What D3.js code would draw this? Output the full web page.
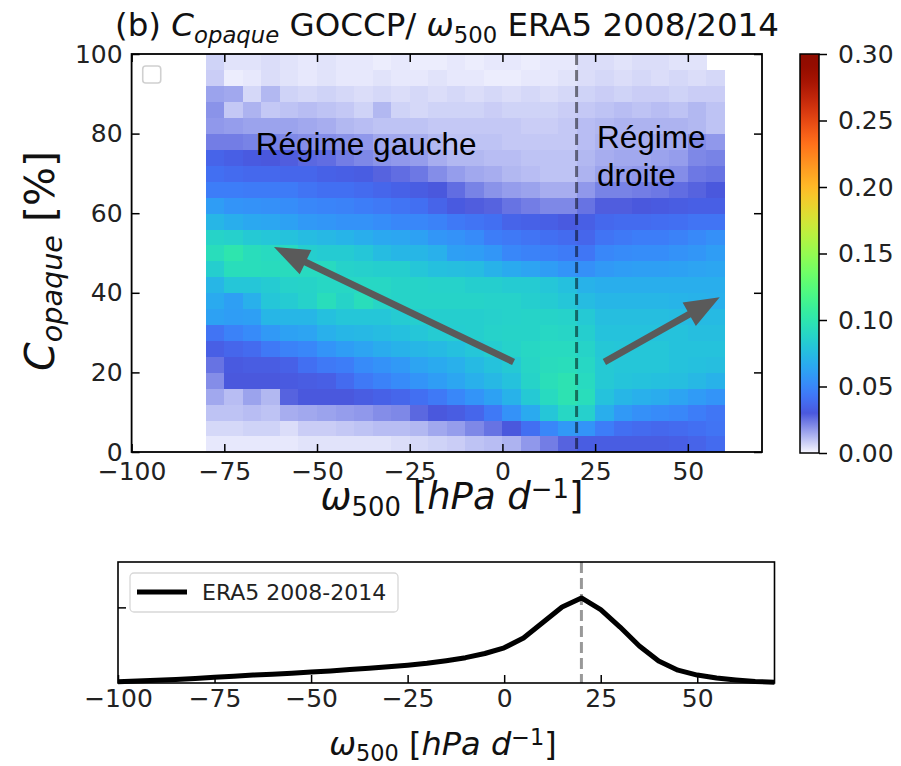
<!DOCTYPE html>
<html><head><meta charset="utf-8">
<script src="https://cdn.jsdelivr.net/npm/d3@7"></script>
<style>body{margin:0;background:#fff;} svg text{font-family:"DejaVu Sans";}</style>
</head><body><svg id="c" width="901" height="766" xmlns="http://www.w3.org/2000/svg"></svg>
<script>
// ---------------- DATA ----------------
const xBins = [-80,-75,-70,-65,-60,-55,-50,-45,-40,-35,-30,-25,-20,-15,-10,-5,0,5,10,15,20,25,30,35,40,45,50,55];
const yBins = [0,4,8,12,16,20,24,28,32,36,40,44,48,52,56,60,64,68,72,76,80,84,88,92,96];
const binW = 5, binH = 4;
// relative frequency x 1e-3, one row per yBin (bottom to top), one value per xBin
const hist = [
 [3,3,3,3,3,4,4,4,4,4,5,6,7,8,10,11,13,18,23,28,32,32,32,32,32,33,35,38],
 [6,6,7,7,5,8,8,9,10,11,11,12,15,17,21,25,30,40,50,58,56,46,40,38,37,38,40,42],
 [10,10,11,10,14,15,16,17,18,20,21,27,30,32,36,44,55,66,80,90,86,68,58,54,52,50,46,43],
 [15,11,16,12,28,30,30,30,32,34,36,40,44,50,56,62,70,82,92,98,94,78,72,69,67,63,59,56],
 [20,30,30,30,31,32,33,38,44,48,52,56,60,64,69,73,78,88,95,98,92,82,79,78,77,76,73,70],
 [25,31,32,32,34,40,44,46,52,55,58,63,66,69,74,78,82,89,93,94,90,82,80,80,80,78,77,76],
 [33,36,38,44,48,50,56,60,63,67,70,72,74,77,80,84,87,90,92,92,88,81,80,80,80,78,78,78],
 [42,48,52,58,62,63,69,72,73,75,77,80,83,84,85,87,88,88,90,89,85,78,78,78,78,78,76,76],
 [62,60,61,72,72,72,77,80,80,80,83,85,85,85,85,86,87,88,88,87,82,76,76,76,76,75,74,74],
 [66,61,69,80,83,87,94,88,94,89,88,88,88,88,88,87,87,85,83,80,75,72,72,72,72,71,70,69],
 [72,80,80,83,87,88,90,90,90,90,88,88,87,87,85,85,83,83,80,77,70,68,68,68,68,68,68,68],
 [85,94,94,93,93,92,92,87,86,85,85,80,77,76,75,70,66,63,60,56,54,58,60,61,61,62,63,64],
 [94,100,94,92,92,85,83,83,80,75,72,72,69,61,60,57,50,48,47,45,43,50,52,53,53,55,57,60],
 [88,86,82,80,78,75,73,71,68,65,64,62,57,55,52,46,44,42,40,38,36,42,44,46,46,48,51,54],
 [72,68,65,64,62,58,57,55,55,53,50,50,48,44,42,40,35,34,33,31,33,37,38,38,39,40,42,42],
 [60,56,55,54,53,50,49,48,46,44,42,40,35,31,29,28,25,23,21,21,25,29,29,30,31,32,33,33],
 [46,46,45,45,45,42,40,40,38,36,34,32,30,26,22,19,17,16,14,14,18,22,22,23,24,26,28,30],
 [40,38,37,37,36,36,34,33,32,28,26,24,20,17,15,14,12,11,10,10,13,16,17,18,19,20,24,25],
 [35,33,31,30,29,27,26,23,21,19,18,17,14,12,12,11,11,10,10,10,12,14,15,15,16,17,21,22],
 [23,23,22,22,21,20,20,19,18,15,15,14,12,10,10,10,9,9,9,9,11,13,14,14,15,15,20,18],
 [18,17,16,16,16,15,14,12,11,10,10,10,9,9,9,9,9,8,8,9,11,12,13,13,13,13,12,10],
 [19,9,13,9,10,11,10,9,7,12,7,6,7,7,7,8,7,7,7,8,9,10,11,10,11,10,12,10],
 [16,15,6,12,7,6,7,6,5,6,5,6,5,6,5,6,5,6,5,6,7,8,7,8,8,7,8,8],
 [8,2,3,5,4,3,4,3,3,4,3,3,4,3,3,2,2,3,3,4,5,6,5,6,5,6,5,6],
 [7,4,4,5,4,3,4,3,3,2,3,2,2,3,2,3,3,2,3,3,5,5,4,5,5,4,4,0]
];
const xTicks = [-100,-75,-50,-25,0,25,50];
const yTicks = [0,20,40,60,80,100];
const cbTicks = [0,0.05,0.10,0.15,0.20,0.25,0.30];
const omegaX = [-100,-95,-90,-85,-80,-75,-70,-65,-60,-55,-50,-45,-40,-35,-30,-25,-20,-15,-10,-5,0,5,10,15,20,25,30,35,40,45,50,55,60,65,70];
const omegaPdf = [0.0003,0.0005,0.0007,0.0009,0.0012,0.0015,0.0018,0.0021,0.0023,0.0026,0.0029,0.0032,0.0036,0.0039,0.0043,0.0047,0.0052,0.0059,0.0067,0.0078,0.0093,0.0119,0.0160,0.0201,0.0225,0.0194,0.0148,0.0098,0.0058,0.0034,0.0021,0.0013,0.0008,0.0004,0.0002];
const pdfTicks = [0.02];
const omegaSplit = 20;
const arrows = [{from:[3,22.6], to:[-61.6,51.5]}, {from:[27.5,22.6], to:[58.6,38.9]}];
const regimeLabels = [{lines:["Régime gauche"], at:[-66.5,74.5]}, {lines:["Régime","droite"], at:[25.5,76.5]}];

// ---------------- LAYOUT ----------------
const svg = d3.select("#c");
const M = {l:131.6, r:762, t:54, b:452};
const CB = {l:800, r:819, t:54, b:453};
const B = {l:118, r:774.5, t:562, b:683};
const FS = 25;

const x = d3.scaleLinear().domain([-100,70]).range([M.l,M.r]);
const y = d3.scaleLinear().domain([0,100]).range([M.b,M.t]);
const cb = d3.scaleLinear().domain([0,0.3]).range([CB.b,CB.t]);
const xb = d3.scaleLinear().domain([-100,70]).range([B.l,B.r]);
const yb = d3.scaleLinear().domain([0,0.032]).range([B.b,B.t]);

const low = d3.interpolateRgb("rgb(248,248,255)", d3.interpolateTurbo(0.1));
function cmap(v){ const t=Math.max(0,Math.min(1,v/0.3)); return t<0.1 ? low(t/0.1) : d3.interpolateTurbo(t); }

// ---------------- HEATMAP ----------------
const cells = [];
hist.forEach((row,i)=>row.forEach((v,j)=>{ if(v>0) cells.push({x0:xBins[j], y0:yBins[i], v:v/1000}); }));
svg.append("g").selectAll("rect").data(cells).join("rect")
  .attr("x",d=>x(d.x0)).attr("y",d=>y(d.y0+binH))
  .attr("width",d=>x(d.x0+binW)-x(d.x0)+0.4).attr("height",d=>y(d.y0)-y(d.y0+binH)+0.4)
  .attr("fill",d=>cmap(d.v)).attr("shape-rendering","crispEdges");

// empty legend box
svg.append("rect").attr("x",x(-97)).attr("y",y(97)).attr("width",18).attr("height",17)
  .attr("rx",3).attr("fill","#fff").attr("stroke","#d0d0d0").attr("stroke-width",1.6);

// dashed split line
svg.append("line").attr("x1",x(omegaSplit)).attr("x2",x(omegaSplit)).attr("y1",M.t).attr("y2",M.b)
  .attr("stroke","#000").attr("stroke-opacity",0.5).attr("stroke-width",3).attr("stroke-dasharray","11,5");

// arrows
function arrowPath(p0,p1){
  const ax=x(p0[0]), ay=y(p0[1]), bx=x(p1[0]), by=y(p1[1]);
  const dx=bx-ax, dy=by-ay, L=Math.hypot(dx,dy), ux=dx/L, uy=dy/L, nx=-uy, ny=ux;
  const w=3.4, hw=13.5, hl=35;
  const hx=bx-ux*hl, hy=by-uy*hl;
  const pts=[[ax+nx*w,ay+ny*w],[hx+nx*w,hy+ny*w],[hx+nx*hw,hy+ny*hw],[bx,by],[hx-nx*hw,hy-ny*hw],[hx-nx*w,hy-ny*w],[ax-nx*w,ay-ny*w]];
  return "M"+pts.map(p=>p.join(",")).join("L")+"Z";
}
svg.append("g").selectAll("path").data(arrows).join("path")
  .attr("d",d=>arrowPath(d.from,d.to)).attr("fill","#5a5a5a");

// regime labels
regimeLabels.forEach(r=>{
  const t=svg.append("text").attr("x",x(r.at[0])).attr("y",y(r.at[1]))
    .style("font-family","'Liberation Sans', Arial, sans-serif").attr("font-size",31.5).attr("fill","#000");
  r.lines.forEach((s,k)=>t.append("tspan").attr("x",x(r.at[0])).attr("dy",k?38:0).text(s));
});

// frame
svg.append("rect").attr("x",M.l).attr("y",M.t).attr("width",M.r-M.l).attr("height",M.b-M.t)
  .attr("fill","none").attr("stroke","#000").attr("stroke-width",1.8);

function styleAxis(g){ g.select(".domain").remove(); g.attr("font-family","DejaVu Sans").attr("font-size",FS);
  g.selectAll(".tick line").attr("stroke","#000").attr("stroke-width",1.5); g.selectAll(".tick text").attr("fill","#222"); }

svg.append("g").attr("transform",`translate(0,${M.b})`)
  .call(d3.axisBottom(x).tickValues(xTicks).tickSize(-8).tickPadding(10)).call(styleAxis);
svg.append("g").attr("transform",`translate(0,${M.t})`)
  .call(d3.axisTop(x).tickValues(xTicks).tickSize(-8).tickFormat("")).call(styleAxis);
svg.append("g").attr("transform",`translate(${M.l},0)`)
  .call(d3.axisLeft(y).tickValues(yTicks).tickSize(-8).tickPadding(9)).call(styleAxis);
svg.append("g").attr("transform",`translate(${M.r},0)`)
  .call(d3.axisRight(y).tickValues(yTicks).tickSize(-8).tickFormat("")).call(styleAxis);

// math-like text helper
function mathText(g, parts, fs){
  parts.forEach(p=>{
    const ts=g.append("tspan").text(p.t);
    if(p.i) ts.attr("font-style","italic");
    if(p.sub){ ts.attr("font-size",fs*0.7).attr("dy",fs*0.2); }
    if(p.sup){ ts.attr("font-size",fs*0.7).attr("dy",-fs*0.3); }
    if(p.back) ts.attr("dy",p.back*fs);
  });
}
const title=svg.append("text").attr("x",447).attr("y",36).attr("text-anchor","middle").attr("font-size",32.5).attr("fill","#111");
mathText(title,[{t:"(b) "},{t:"C",i:1},{t:"opaque",i:1,sub:1},{t:" GOCCP/ ",back:-0.2},{t:"ω",i:1},{t:"500",sub:1},{t:" ERA5 2008/2014",back:-0.2}],32.5);

const ylab=svg.append("text").attr("transform",`translate(54,261) rotate(-90)`).attr("text-anchor","middle").attr("font-size",41).attr("fill","#111");
mathText(ylab,[{t:"C",i:1},{t:"opaque",i:1,sub:1},{t:" [%]",back:-0.2}],41);

const xlab=svg.append("text").attr("x",452).attr("y",509).attr("text-anchor","middle").attr("font-size",37).attr("fill","#111");
mathText(xlab,[{t:"ω",i:1},{t:"500",sub:1},{t:" [",back:-0.2},{t:"hPa",i:1},{t:" "},{t:"d",i:1},{t:"−1",sup:1},{t:"]",back:0.3}],37);

// ---------------- COLORBAR ----------------
const defs=svg.append("defs");
const grad=defs.append("linearGradient").attr("id","cbg").attr("x1",0).attr("y1",1).attr("x2",0).attr("y2",0);
d3.range(0,1.0001,0.01).forEach(s=>grad.append("stop").attr("offset",s).attr("stop-color",cmap(s*0.3)));
svg.append("rect").attr("x",CB.l).attr("y",CB.t).attr("width",CB.r-CB.l).attr("height",CB.b-CB.t)
  .attr("fill","url(#cbg)").attr("stroke","#000").attr("stroke-width",1.5);
svg.append("g").attr("transform",`translate(${CB.r},0)`)
  .call(d3.axisRight(cb).tickValues(cbTicks).tickSize(8).tickPadding(11).tickFormat(d3.format(".2f"))).call(styleAxis);

// ---------------- BOTTOM PANEL ----------------
svg.append("line").attr("x1",xb(omegaSplit)).attr("x2",xb(omegaSplit)).attr("y1",B.t).attr("y2",B.b)
  .attr("stroke","#999").attr("stroke-width",3).attr("stroke-dasharray","11,5");
svg.append("path").datum(omegaX.map((v,i)=>[v,omegaPdf[i]]))
  .attr("d",d3.line().x(d=>xb(d[0])).y(d=>yb(d[1])))
  .attr("fill","none").attr("stroke","#000").attr("stroke-width",5).attr("stroke-linejoin","round");
svg.append("rect").attr("x",B.l).attr("y",B.t).attr("width",B.r-B.l).attr("height",B.b-B.t)
  .attr("fill","none").attr("stroke","#000").attr("stroke-width",1.6);
svg.append("g").attr("transform",`translate(0,${B.b})`)
  .call(d3.axisBottom(xb).tickValues(xTicks).tickSize(-8).tickPadding(6)).call(styleAxis);
svg.append("g").attr("transform",`translate(${B.l},0)`)
  .call(d3.axisLeft(yb).tickValues(pdfTicks).tickSize(-8).tickFormat("")).call(styleAxis);
// legend
svg.append("rect").attr("x",130).attr("y",573).attr("width",268).attr("height",39).attr("rx",4)
  .attr("fill","#fff").attr("fill-opacity",0.8).attr("stroke","#d8d8d8").attr("stroke-width",1.3);
svg.append("line").attr("x1",137).attr("x2",187).attr("y1",592).attr("y2",592).attr("stroke","#000").attr("stroke-width",5);
svg.append("text").attr("x",202).attr("y",600).attr("font-size",22).attr("fill","#222").text("ERA5 2008-2014");

const xlab2=svg.append("text").attr("x",443).attr("y",755).attr("text-anchor","middle").attr("font-size",32).attr("fill","#111");
mathText(xlab2,[{t:"ω",i:1},{t:"500",sub:1},{t:" [",back:-0.2},{t:"hPa",i:1},{t:" "},{t:"d",i:1},{t:"−1",sup:1},{t:"]",back:0.3}],32);
</script></body></html>
